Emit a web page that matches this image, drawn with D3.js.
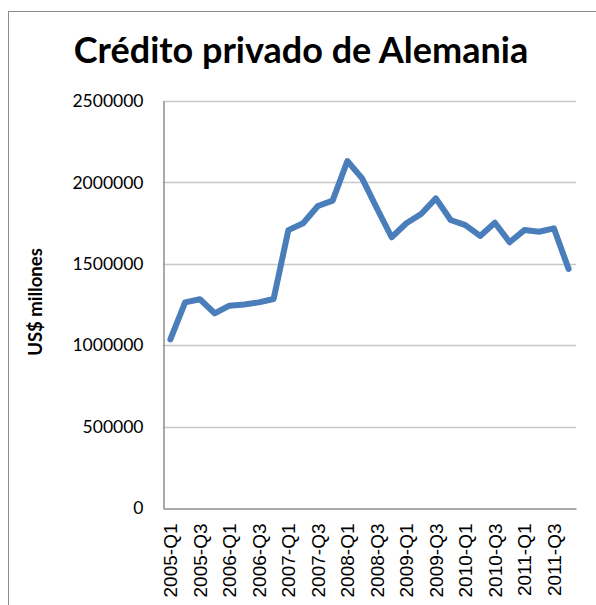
<!DOCTYPE html>
<html>
<head>
<meta charset="utf-8">
<script src="https://cdn.jsdelivr.net/npm/d3@7"></script>
<style>
  body { margin: 0; background: #fff; }
</style>
</head>
<body>
<svg id="chart" width="596" height="605"></svg>
<script>
// quarters 2005-Q1 .. 2011-Q4
var quarters = [
  "2005-Q1","2005-Q2","2005-Q3","2005-Q4",
  "2006-Q1","2006-Q2","2006-Q3","2006-Q4",
  "2007-Q1","2007-Q2","2007-Q3","2007-Q4",
  "2008-Q1","2008-Q2","2008-Q3","2008-Q4",
  "2009-Q1","2009-Q2","2009-Q3","2009-Q4",
  "2010-Q1","2010-Q2","2010-Q3","2010-Q4",
  "2011-Q1","2011-Q2","2011-Q3","2011-Q4"
];
// US$ millones
var credito = [
  1036000, 1263000, 1282000, 1196000,
  1243000, 1250000, 1263000, 1284000,
  1707000, 1749000, 1855000, 1888000,
  2131000, 2025000, 1841000, 1663000,
  1749000, 1806000, 1902000, 1769000,
  1738000, 1671000, 1752000, 1632000,
  1707000, 1697000, 1718000, 1468000
];
var yTicks = [0, 500000, 1000000, 1500000, 2000000, 2500000];
var xLabels = quarters.filter(function(d, i) { return i % 2 == 0 });

var svg = d3.select("#chart");
var pLeft = 163, pRight = 576, pTop = 101, pBottom = 508;

// outer frame
svg.append("rect")
  .attr("x", 8.5).attr("y", 11.5)
  .attr("width", 620).attr("height", 620)
  .attr("fill", "none").attr("stroke", "#8c8c8c").attr("stroke-width", 1);

svg.append("text")
  .attr("x", 301).attr("y", 63)
  .attr("text-anchor", "middle")
  .style("font-family", "Lato, 'Open Sans', sans-serif")
  .style("font-weight", "bold")
  .style("font-size", "36px")
  .attr("fill", "#000")
  .text("Crédito privado de Alemania");

var x = d3.scaleBand().domain(quarters).range([pLeft, pRight]);
var y = d3.scaleLinear().domain([0, 2500000]).range([pBottom, pTop]);

// gridlines
svg.append("g")
  .selectAll("line").data(yTicks.slice(1)).enter().append("line")
  .attr("x1", pLeft).attr("x2", pRight)
  .attr("y1", function(d) { return Math.round(y(d)) + 0.5 })
  .attr("y2", function(d) { return Math.round(y(d)) + 0.5 })
  .attr("stroke", "#c8c8c8").attr("stroke-width", 1.5);

// y axis
var yAxis = svg.append("g")
  .attr("transform", "translate(" + (pLeft + 0.5) + ",0)")
  .call(d3.axisLeft(y).tickValues(yTicks).tickSize(0).tickPadding(20).tickFormat(d3.format("d")));
yAxis.select(".domain").attr("stroke", "#8c8c8c").attr("stroke-width", 1.5);
yAxis.selectAll("text")
  .style("font-family", "Lato, 'Open Sans', sans-serif")
  .style("font-size", "17.5px")
  .attr("fill", "#000");

// x axis
var xAxis = svg.append("g")
  .attr("transform", "translate(0," + (pBottom + 0.5) + ")")
  .call(d3.axisBottom(x).tickValues(xLabels).tickSize(0).tickPadding(0));
xAxis.select(".domain").attr("stroke", "#8c8c8c").attr("stroke-width", 1.5);
xAxis.selectAll("text")
  .attr("transform", "rotate(-90)")
  .attr("x", -15).attr("y", 0).attr("dy", "0.35em")
  .style("text-anchor", "end")
  .style("font-family", "'Liberation Sans', Arial, sans-serif")
  .style("font-size", "19px")
  .attr("fill", "#000");

svg.append("text")
  .attr("transform", "translate(42,302) rotate(-90)")
  .attr("text-anchor", "middle")
  .style("font-family", "Lato, 'Open Sans', sans-serif")
  .style("font-weight", "bold")
  .style("font-size", "18.5px")
  .text("US$ millones");

var line = d3.line()
  .x(function(d, i) { return x(quarters[i]) + x.bandwidth() / 2 })
  .y(function(d) { return y(d) });

svg.append("path")
  .datum(credito)
  .attr("d", line)
  .attr("fill", "none")
  .attr("stroke", "#4a7ebb")
  .attr("stroke-width", 6)
  .attr("stroke-linejoin", "round")
  .attr("stroke-linecap", "round");
</script>
</body>
</html>
